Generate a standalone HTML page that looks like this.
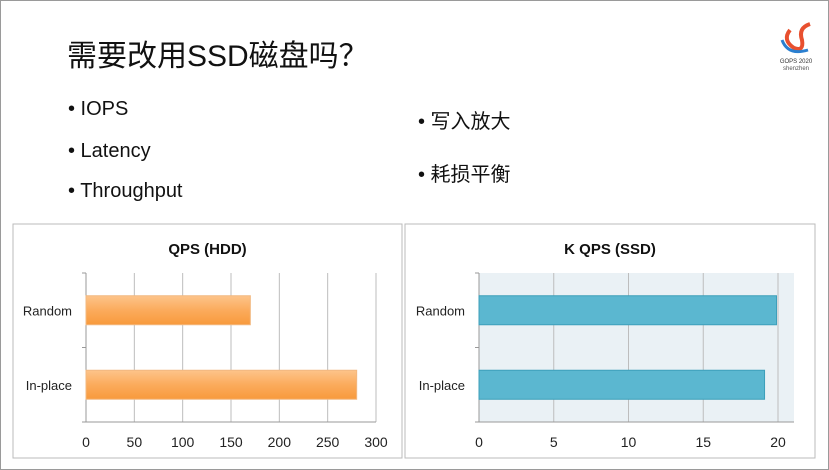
<!DOCTYPE html>
<html><head><meta charset="utf-8"><style>
body{margin:0;width:829px;height:470px;overflow:hidden;background:#fff;font-family:"Liberation Sans","Noto Sans CJK SC",sans-serif;}
#slide{position:absolute;left:0;top:0;width:827px;height:468px;border:1px solid #9a9a9a;}
.t{position:absolute;white-space:nowrap;color:#111;}
.b{font-size:20px;}
svg{position:absolute;left:0;top:0;}
</style></head><body>
<div id="slide"></div>
<div class="t" style="left:67px;top:31px;font-size:30px;">需要改用SSD磁盘吗？</div>
<div class="t b" style="left:68px;top:98px;">• IOPS</div>
<div class="t b" style="left:68px;top:140px;">• Latency</div>
<div class="t b" style="left:68px;top:180px;">• Throughput</div>
<div class="t b" style="left:418px;top:105px;">• 写入放大</div>
<div class="t b" style="left:418px;top:158px;">• 耗损平衡</div>
<svg width="829" height="470" style="left:0;top:0">
<path d="M790 30 q-8 10 4 18 q10 4 8 -8 q-4 -12 8 -16" fill="none" stroke="#e8502f" stroke-width="4"/>
<path d="M782 40 q6 16 26 10" fill="none" stroke="#2a7fd0" stroke-width="3"/>
<text x="796" y="63" font-size="6" text-anchor="middle" fill="#333">GOPS 2020</text>
<text x="796" y="70" font-size="6" text-anchor="middle" fill="#555">shenzhen</text>
</svg>
<svg id="c" width="829" height="470"></svg>
<script>
const categories=["Random","In-place"];
const hddValues=[170,280];
const ssdValues=[19.9,19.1];
const hddTicks=[0,50,100,150,200,250,300];
const ssdTicks=[0,5,10,15,20];
const NS="http://www.w3.org/2000/svg";
const svg=document.getElementById('c');
function mk(t,a,p){const e=document.createElementNS(NS,t);for(const k in a)e.setAttribute(k,a[k]);(p||svg).appendChild(e);return e;}
svg.innerHTML='<defs><linearGradient id="og" x1="0" y1="0" x2="0" y2="1"><stop offset="0" stop-color="#fdc48a"/><stop offset="0.5" stop-color="#fbab5c"/><stop offset="1" stop-color="#f89a3c"/></linearGradient></defs>';
function chart(o){
  const g=mk('g',{});
  
  
  const frame=mk('rect',{x:o.px,y:224,width:o.pw,height:234,fill:'#fff',stroke:'#bbb'},g);
  
  
  const x=v=>o.x0+(v-0)*(o.x1-o.x0)/o.vmax;
  const top=273,bot=422;
  if(o.bg){const r=mk('rect',{x:o.x0,y:top,width:o.xend-o.x0,height:bot-top,fill:o.bg},g);
    }
  o.ticks.forEach(t=>{
    const l=mk('line',{x1:x(t),x2:x(t),y1:top,y2:bot,stroke:'#bdbdbd'},g);
    
    const tx=mk('text',{x:x(t),y:447,'font-size':14,'text-anchor':'middle',fill:'#222'},g);
    tx.textContent=t;
    
  });
  mk('line',{x1:o.x0,x2:o.x0,y1:top,y2:bot,stroke:'#999'},g);
  mk('line',{x1:o.x0,x2:o.xend,y1:bot,y2:bot,stroke:'#999'},g);
  [top,(top+bot)/2,bot].forEach(y=>mk('line',{x1:o.x0-4,x2:o.x0,y1:y,y2:y,stroke:'#999'},g));
  const band=(bot-top)/categories.length;
  categories.forEach((c,i)=>{
    const yc=top+band*(i+0.5);
    const r=mk('rect',{x:o.x0,y:yc-14.5,width:x(o.vals[i])-o.x0,height:29,fill:o.fill,stroke:o.stroke,'stroke-width':1},g);
    
    const t=mk('text',{x:o.x0-14,y:yc+5,'font-size':13,'text-anchor':'end',fill:'#222'},g);
    t.textContent=c;
    
  });
  const tt=mk('text',{x:o.px+o.pw/2,y:254,'font-size':15,'font-weight':'bold','text-anchor':'middle',fill:'#111'},g);
  tt.textContent=o.title;
  
}
chart({name:'hdd-chart',px:13,pw:389,x0:86,x1:376,xend:376,vmax:300,ticks:hddTicks,vals:hddValues,fill:'url(#og)',stroke:'#f2b880',title:'QPS (HDD)'});
chart({name:'ssd-chart',px:405,pw:410,x0:479,x1:778,xend:794,vmax:20,ticks:ssdTicks,vals:ssdValues,fill:'#5bb7d0',stroke:'#3d9fba',bg:'#eaf1f5',title:'K QPS (SSD)'});
</script>
</body></html>
